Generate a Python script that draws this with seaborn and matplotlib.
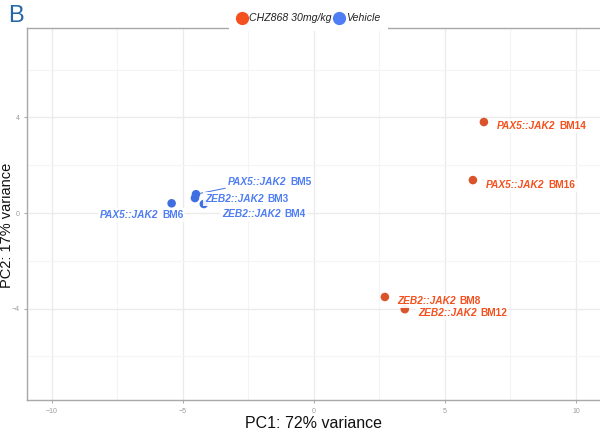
import matplotlib
matplotlib.use("Agg")
import matplotlib.pyplot as plt
import seaborn as sns
import pandas as pd
from matplotlib.ticker import MultipleLocator
from matplotlib.lines import Line2D

samples = ["BM14", "BM16", "BM8", "BM12", "BM5", "BM3", "BM4", "BM6"]
genes = ["PAX5::JAK2", "PAX5::JAK2", "ZEB2::JAK2", "ZEB2::JAK2",
         "PAX5::JAK2", "ZEB2::JAK2", "ZEB2::JAK2", "PAX5::JAK2"]
groups = ["CHZ868 30mg/kg"] * 4 + ["Vehicle"] * 4
pc1 = [6.49, 6.07, 2.71, 3.47, -4.50, -4.54, -4.20, -5.43]
pc2 = [3.81, 1.38, -3.51, -4.02, 0.79, 0.63, 0.38, 0.41]
# label anchor (left-center) positions, data units
lab_x = [6.98, 6.56, 3.17, 3.97, -3.28, -4.16, -3.51, -8.17]
lab_y = [3.64, 1.17, -3.68, -4.18, 1.30, 0.59, -0.04, -0.08]
hue_order = ["CHZ868 30mg/kg", "Vehicle"]
palette = {"CHZ868 30mg/kg": "#F4511E", "Vehicle": "#4F7DF3"}
point_col = {"CHZ868 30mg/kg": "#D9542A", "Vehicle": "#3F6FE0"}

df = pd.DataFrame({"PC1": pc1, "PC2": pc2, "group": groups,
                   "sample": samples, "gene": genes})

sns.set_theme(style="white")
plt.rcParams["font.family"] = ["Liberation Sans", "DejaVu Sans"]

fig = plt.figure(figsize=(6, 4.37), dpi=100)
ax = fig.add_axes([0.045, 0.0847, 0.965, 0.851])

sns.scatterplot(data=df, x="PC1", y="PC2", hue="group", hue_order=hue_order,
                palette=point_col, s=38, edgecolor="none", ax=ax, zorder=3,
                legend=False)

ax.set_xlim(-10.95, 11.15)
ax.set_ylim(-7.82, 7.74)
ax.xaxis.set_major_locator(MultipleLocator(5))
ax.xaxis.set_minor_locator(MultipleLocator(2.5))
ax.yaxis.set_major_locator(MultipleLocator(4))
ax.yaxis.set_minor_locator(MultipleLocator(2))
ax.grid(True, which="major", color="#EBEBEB", lw=1.0)
ax.grid(True, which="minor", color="#F4F4F4", lw=0.8)
ax.set_axisbelow(True)
for s in ["left", "bottom", "top"]:
    ax.spines[s].set_color("#A8A8A8")
    ax.spines[s].set_linewidth(1.0)
ax.spines["right"].set_visible(False)
ax.tick_params(axis="both", which="major", labelsize=5, colors="#9A9A9A",
               length=2, width=0.6, direction="out", bottom=True, left=True)
ax.tick_params(axis="both", which="minor", length=0)
ax.set_xlabel("")
ax.set_ylabel("")

# connector for BM5
ax.plot([pc1[4], lab_x[4] - 0.1], [pc2[4], pc2[4] + 0.25], color="#3F6FE0",
        lw=0.7, zorder=2)

for i in range(len(samples)):
    col = palette[groups[i]]
    t1 = ax.text(lab_x[i], lab_y[i], genes[i], color=col, fontsize=7.3,
                 fontweight="bold", fontstyle="italic", va="center", ha="left",
                 zorder=4,
                 bbox=dict(facecolor="white", edgecolor="none", pad=1.2, alpha=0.9))
    ax.annotate(samples[i], xy=(1, 0.5), xycoords=t1, xytext=(3, 0),
                textcoords="offset points", color=col, fontsize=7.3,
                fontweight="bold", va="center", ha="left", zorder=4,
                bbox=dict(facecolor="white", edgecolor="none", pad=1.2, alpha=0.9))

# legend
handles = [Line2D([], [], marker="o", ls="", color=palette[g], markersize=8.5)
           for g in hue_order]
leg = fig.legend(handles, hue_order, loc="center", bbox_to_anchor=(0.514, 0.958),
                 ncol=2, frameon=True, fontsize=7.6, handletextpad=0.15,
                 columnspacing=0.2, borderpad=0.75, handlelength=1.0)
leg.get_frame().set_facecolor("white")
leg.get_frame().set_edgecolor("none")
leg.get_frame().set_alpha(1)
leg.get_frame().set_boxstyle("square", pad=0)
for t in leg.get_texts():
    t.set_fontstyle("italic")
    t.set_color("#222222")
leg.set_zorder(10)

fig.text(0.013, 0.988, "B", color="#2566A8", fontsize=17, va="top", ha="left")
fig.text(0.523, 0.032, "PC1: 72% variance", fontsize=11.5, ha="center",
         va="center", color="#111111")
fig.text(0.0125, 0.485, "PC2: 17% variance", fontsize=10.5, ha="center",
         va="center", rotation=90, color="#111111")

fig.savefig("out.png", dpi=100, facecolor="white")
